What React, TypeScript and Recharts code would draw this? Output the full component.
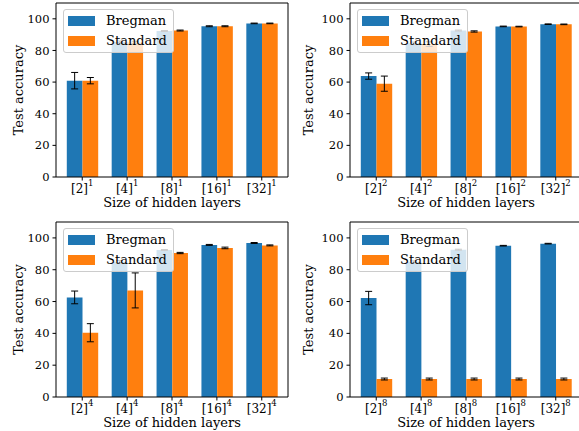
import { BarChart, Bar, XAxis, YAxis, ErrorBar, Legend } from 'recharts';

const CATEGORIES = ['[2]', '[4]', '[8]', '[16]', '[32]'];
const DEPTHS = [1, 2, 4, 8];

const BREGMAN_1 = [60.9, 85.4, 92.3, 95.3, 97.1];
const BREGMAN_1_ERR = [5.2, 0.6, 0.3, 0.3, 0.2];
const STANDARD_1 = [60.9, 85.0, 92.6, 95.3, 97.1];
const STANDARD_1_ERR = [2.0, 0.8, 0.3, 0.3, 0.2];

const BREGMAN_2 = [63.8, 84.5, 92.6, 95.2, 96.6];
const BREGMAN_2_ERR = [2.0, 0.8, 0.3, 0.2, 0.2];
const STANDARD_2 = [59.0, 84.0, 92.0, 95.1, 96.5];
const STANDARD_2_ERR = [4.8, 1.5, 0.4, 0.2, 0.2];

const BREGMAN_4 = [62.6, 85.0, 92.4, 95.6, 96.8];
const BREGMAN_4_ERR = [4.0, 0.8, 0.3, 0.3, 0.3];
const STANDARD_4 = [40.4, 67.0, 90.5, 93.7, 95.3];
const STANDARD_4_ERR = [5.7, 11.0, 0.4, 0.5, 0.3];

const BREGMAN_8 = [62.2, 85.0, 92.6, 95.1, 96.4];
const BREGMAN_8_ERR = [4.2, 0.6, 0.3, 0.2, 0.2];
const STANDARD_8 = [11.3, 11.3, 11.3, 11.3, 11.3];
const STANDARD_8_ERR = [0.6, 0.6, 0.6, 0.6, 0.6];

const Y_TICKS = [0, 20, 40, 60, 80, 100];

const BLUE = '#1f77b4';
const ORANGE = '#ff7f0e';
const FONT = 'DejaVu Serif';

const PANELS = [
  { depth: DEPTHS[0], b: BREGMAN_1, bErr: BREGMAN_1_ERR, s: STANDARD_1, sErr: STANDARD_1_ERR },
  { depth: DEPTHS[1], b: BREGMAN_2, bErr: BREGMAN_2_ERR, s: STANDARD_2, sErr: STANDARD_2_ERR },
  { depth: DEPTHS[2], b: BREGMAN_4, bErr: BREGMAN_4_ERR, s: STANDARD_4, sErr: STANDARD_4_ERR },
  { depth: DEPTHS[3], b: BREGMAN_8, bErr: BREGMAN_8_ERR, s: STANDARD_8, sErr: STANDARD_8_ERR },
];

// where each subplot sits on the page (top / right spines are 1px axes)
const PLACES = [
  { left: 0, top: 0, width: 290, height: 215, mt: 2, mr: 1, yw: 56 },
  { left: 290, top: 0, width: 293, height: 215, mt: 2, mr: 0, yw: 60 },
  { left: 0, top: 215, width: 290, height: 220, mt: 6, mr: 1, yw: 56 },
  { left: 290, top: 215, width: 293, height: 220, mt: 6, mr: 0, yw: 60 },
];

const makeTick = (sup: number) => (props: any) => {
  const { x, y, payload } = props;
  return (
    <text x={x} y={y + 9} textAnchor="middle" fontFamily={FONT} fontSize={12} fill="#000">
      <tspan>{payload.value}</tspan>
      <tspan dy={-7} fontSize={8.5}>{sup}</tspan>
    </text>
  );
};

const LegendBox = () => (
  <div
    style={{
      background: 'rgba(255,255,255,0.8)',
      border: '1px solid #ccc',
      borderRadius: 3,
      padding: '1px 6px 1px 4px',
      fontFamily: FONT,
      fontSize: 13,
      color: '#000',
    }}
  >
    {[
      { name: 'Bregman', color: BLUE },
      { name: 'Standard', color: ORANGE },
    ].map((e) => (
      <div key={e.name} style={{ display: 'flex', alignItems: 'center', height: 20 }}>
        <div style={{ width: 27, height: 10, background: e.color, marginRight: 11 }} />
        <span style={{ lineHeight: '20px', whiteSpace: 'nowrap' }}>{e.name}</span>
      </div>
    ))}
  </div>
);

const Panel = ({ panel, place }: { panel: (typeof PANELS)[number]; place: (typeof PLACES)[number] }) => {
  const data = CATEGORIES.map((cat, i) => ({
    cat,
    bregman: panel.b[i],
    bErr: panel.bErr[i],
    standard: panel.s[i],
    sErr: panel.sErr[i],
  }));

  return (
    <div style={{ position: 'absolute', left: place.left, top: place.top }}>
      <BarChart
        width={place.width}
        height={place.height}
        data={data}
        margin={{ top: place.mt, right: place.mr, left: 0, bottom: 0 }}
        barGap={0}
        barSize={15.7}
      >
        <XAxis
          dataKey="cat"
          height={38}
          padding={{ left: 3.8, right: 3.8 }}
          tick={makeTick(panel.depth)}
          tickSize={3.5}
          tickMargin={3.5}
          tickLine={{ stroke: '#000' }}
          axisLine={{ stroke: '#000' }}
          interval={0}
          label={{
            value: 'Size of hidden layers',
            position: 'insideBottom',
            offset: 8,
            style: { fontFamily: FONT, fontSize: 13, fill: '#000' },
          }}
        />
        <XAxis
          xAxisId="top"
          dataKey="cat"
          orientation="top"
          height={1}
          tick={false}
          tickLine={false}
          axisLine={{ stroke: '#000' }}
        />
        <YAxis
          width={place.yw}
          domain={[0, 110]}
          ticks={Y_TICKS}
          tickSize={3.5}
          tickMargin={3}
          tickLine={{ stroke: '#000' }}
          axisLine={{ stroke: '#000' }}
          tick={{ fontFamily: FONT, fontSize: 11.5, fill: '#000' }}
          label={{
            value: 'Test accuracy',
            angle: -90,
            position: 'insideLeft',
            offset: 18,
            style: { fontFamily: FONT, fontSize: 13, fill: '#000', textAnchor: 'middle' },
          }}
        />
        <YAxis
          yAxisId="right"
          orientation="right"
          width={1}
          domain={[0, 110]}
          tick={false}
          tickLine={false}
          axisLine={{ stroke: '#000' }}
        />
        <Legend
          layout="vertical"
          align="center"
          verticalAlign="middle"
          content={() => <LegendBox />}
          wrapperStyle={{ left: place.yw + 7, top: place.mt + 7, width: 'auto' }}
        />
        <Bar dataKey="bregman" name="Bregman" fill={BLUE} isAnimationActive={false}>
          <ErrorBar dataKey="bErr" width={3.5} stroke="#000" strokeWidth={1} />
        </Bar>
        <Bar dataKey="standard" name="Standard" fill={ORANGE} isAnimationActive={false}>
          <ErrorBar dataKey="sErr" width={3.5} stroke="#000" strokeWidth={1} />
        </Bar>
      </BarChart>
    </div>
  );
};

export default function App() {
  return (
    <div
      style={{
        position: 'absolute',
        left: 0,
        top: 0,
        width: 579,
        height: 431,
        overflow: 'hidden',
        background: '#fff',
        fontFamily: FONT,
      }}
    >
      {PANELS.map((p, i) => (
        <Panel key={p.depth} panel={p} place={PLACES[i]} />
      ))}
    </div>
  );
}
